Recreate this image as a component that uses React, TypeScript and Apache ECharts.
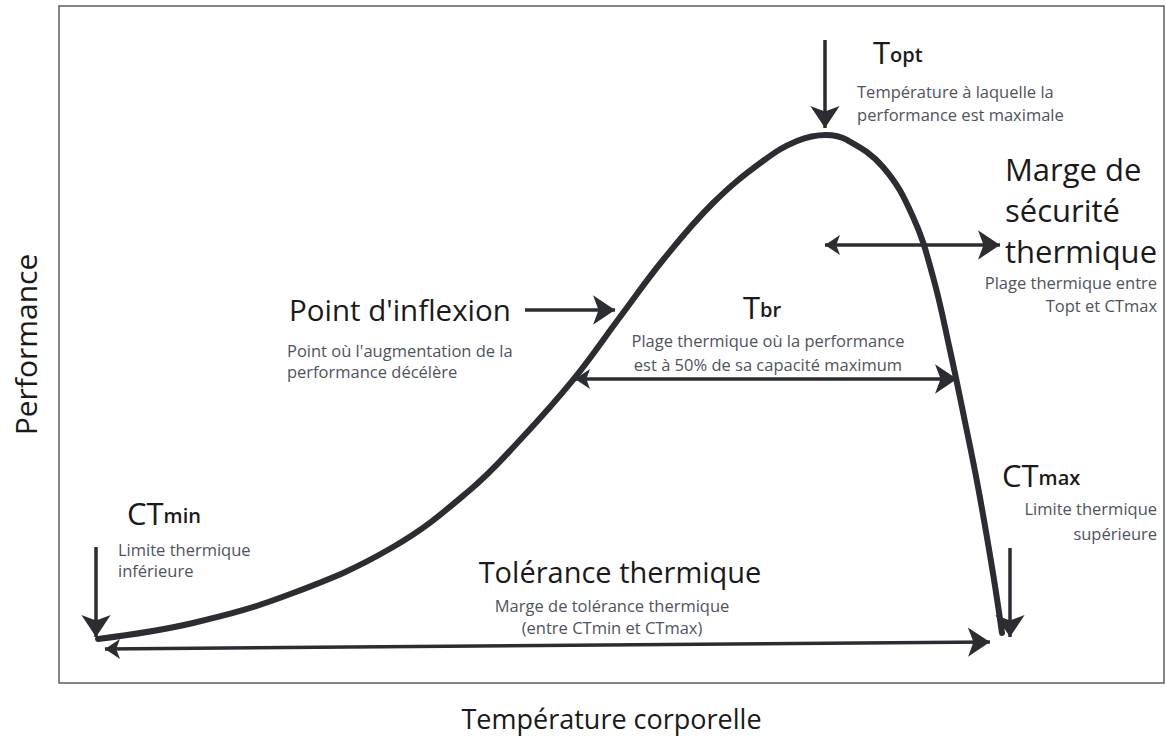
import React, { useEffect, useRef } from "react";
import * as echarts from "echarts";

// Thermal performance curve (arbitrary units: temperature 0-100, performance 0-100)
const curveTemp = [3.53, 12.13, 21.18, 30.23, 37.19, 41.72, 46.52, 50.77, 54.66, 59.19, 63.71, 66.79, 69.41, 71.31, 74.57, 77.29, 79.1, 80.63, 81.9, 83.17, 84.52, 85.34];
const curvePerf = [6.5, 8.86, 13.29, 20.09, 28.51, 35.89, 44.76, 54.06, 62.48, 70.9, 77.1, 80.06, 80.95, 80.21, 76.22, 68.83, 59.97, 49.19, 39.29, 28.95, 16.25, 7.39];

// Annotation arrows: start, end, double-headed
const arrowNames = ["Topt", "Marge", "Inflexion", "Tbr", "CTmin", "CTmax", "Tolerance"];
const arrowStart = [[69.32, 94.98], [69.32, 64.7], [42.17, 55.1], [46.7, 44.9], [3.35, 20.09], [86.06, 19.94], [4.16, 5.02]];
const arrowEnd = [[69.32, 81.98], [85.16, 64.7], [50.32, 55.1], [81.27, 44.9], [3.35, 6.79], [86.06, 6.79], [84.25, 6.06]];
const arrowDouble = [false, true, false, true, false, false, true];

const xAxisTitle = "Température corporelle";
const yAxisTitle = "Performance";

export default function App() {
  const ref = useRef<HTMLDivElement>(null);
  useEffect(() => {
    document.body.style.margin = "0";
    const chart = echarts.init(ref.current!, null, { renderer: "svg" });
    const ink = "#2b2d33";
    const fontFamily = "'Open Sans', 'Noto Sans', sans-serif";

    chart.setOption({
      animation: false,
      grid: {
        left: 59, right: 2, top: 6, bottom: 53, show: true,
        borderColor: "#5c5c5c", borderWidth: 1.5, backgroundColor: "#fff",
        outerBoundsMode: "none", containLabel: false,
      },
      xAxis: {
        type: "value", min: 0, max: 100,
        name: xAxisTitle, nameLocation: "middle", nameGap: 22,
        nameTextStyle: { fontSize: 27, color: "#1a1a1a", fontFamily },
        axisLine: { show: false }, axisTick: { show: false }, axisLabel: { show: false }, splitLine: { show: false },
      },
      yAxis: {
        type: "value", min: 0, max: 100,
        name: yAxisTitle, nameLocation: "middle", nameGap: 19,
        nameTextStyle: { fontSize: 30, color: "#1a1a1a", fontFamily },
        axisLine: { show: false }, axisTick: { show: false }, axisLabel: { show: false }, splitLine: { show: false },
      },
      series: [
        {
          type: "line",
          data: curveTemp.map((t, i) => [t, curvePerf[i]]),
          smooth: 0.4,
          symbol: "none",
          lineStyle: { width: 6, color: ink, cap: "round", join: "round" },
          z: 3,
        },
        {
          type: "lines",
          coordinateSystem: "cartesian2d",
          symbolSize: [15, 22],
          lineStyle: { width: 3.5, color: ink, opacity: 1, curveness: 0 },
          data: arrowNames.map((n, i) => ({
            name: n,
            coords: [arrowStart[i], arrowEnd[i]],
            symbol: [arrowDouble[i] ? "arrow" : "none", "arrow"],
          })),
          z: 4,
        },
      ],
    });

    const P = (x: number, y: number) => chart.convertToPixel({ gridIndex: 0 }, [x, y]) as number[];
    const small = { fontSize: 16.5, fill: "#4e5360", fontFamily, lineHeight: 23 };
    const big = { fill: "#1a1a1a", fontFamily };
    const rich = {
      a: { fontSize: 31, fill: "#1a1a1a", fontFamily, verticalAlign: "bottom" },
      b: { fontSize: 20, fill: "#1a1a1a", fontFamily, fontWeight: 600, verticalAlign: "bottom", padding: [0, 0, 3, 0] },
    };
    const txt = (x: number, y: number, style: any) => {
      const [px, py] = P(x, y);
      return { type: "text", x: px, y: py, z: 10, style };
    };

    chart.setOption({
      graphic: [
        txt(73.67, 93.21, { text: "{a|T}{b|opt}", rich, align: "left", verticalAlign: "middle" }),
        txt(72.22, 89.07, { ...small, text: "Température à laquelle la\nperformance est maximale", align: "left", verticalAlign: "top" }),
        txt(85.61, 78.88, { ...big, fontSize: 31, lineHeight: 41, text: "Marge de\nsécurité\nthermique", align: "left", verticalAlign: "top" }),
        txt(99.37, 60.86, { ...small, lineHeight: 23, text: "Plage thermique entre\nTopt et CTmax", align: "right", verticalAlign: "top" }),
        txt(20.81, 55.1, { ...big, fontSize: 29.5, text: "Point d'inflexion", align: "left", verticalAlign: "middle" }),
        txt(20.63, 50.66, { ...small, lineHeight: 21, text: "Point où l'augmentation de la\nperformance décélère", align: "left", verticalAlign: "top" }),
        txt(63.62, 55.54, { text: "{a|T}{b|br}", rich, align: "center", verticalAlign: "middle" }),
        txt(64.16, 52.29, { ...small, lineHeight: 24, text: "Plage thermique où la performance\nest à 50% de sa capacité maximum", align: "center", verticalAlign: "top" }),
        txt(6.15, 25.11, { text: "{a|CT}{b|min}", rich, align: "left", verticalAlign: "middle" }),
        txt(5.34, 21.27, { ...small, lineHeight: 21, text: "Limite thermique\ninférieure", align: "left", verticalAlign: "top" }),
        txt(85.34, 30.72, { text: "{a|CT}{b|max}", rich, align: "left", verticalAlign: "middle" }),
        txt(99.37, 27.62, { ...small, lineHeight: 25, text: "Limite thermique\nsupérieure", align: "right", verticalAlign: "top" }),
        txt(50.77, 16.4, { ...big, fontSize: 29, text: "Tolérance thermique", align: "center", verticalAlign: "middle" }),
        txt(50.05, 13.0, { ...small, lineHeight: 22, text: "Marge de tolérance thermique\n(entre CTmin et CTmax)", align: "center", verticalAlign: "top" }),
      ],
    });

    return () => chart.dispose();
  }, []);
  return <div ref={ref} style={{ width: 1166, height: 736, background: "#fff" }} />;
}
